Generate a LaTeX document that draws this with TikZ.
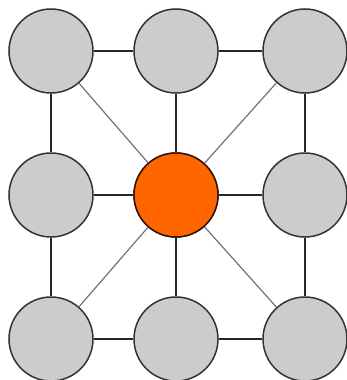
\documentclass[tikz,border=0pt]{standalone}
\usepackage{tikz}
\definecolor{cellgray}{HTML}{CCCCCC}
\definecolor{hub}{HTML}{FF6600}
\definecolor{rim}{HTML}{333333}

\begin{document}
\begin{tikzpicture}[x=1pt,y=-1pt,
  cell/.style={circle,draw=rim,line width=1.5pt,fill=cellgray,minimum size=84pt,inner sep=0pt},
  link/.style={draw=black!85,line width=1.4pt},
  spoke/.style={draw=black!55,line width=1.2pt}]
 \useasboundingbox (0,0) rectangle (346,380);
 \foreach \i/\x in {0/51,1/176,2/305} {
  \foreach \j/\y in {0/51,1/195,2/339} {
   \node[cell] (c\i\j) at (\x,\y) {};
  }
 }
 \node[cell,fill=hub,draw=black!80!hub] (c11) at (176,195) {};
 % grid links
 \foreach \a/\b in {00/10,10/20,01/11,11/21,02/12,12/22,00/01,01/02,10/11,11/12,20/21,21/22} {
  \draw[link] (c\a) -- (c\b);
 }
 % spokes to corners
 \foreach \a in {00,20,02,22} {
  \draw[spoke] (c11) -- (c\a);
 }
\end{tikzpicture}
\end{document}
